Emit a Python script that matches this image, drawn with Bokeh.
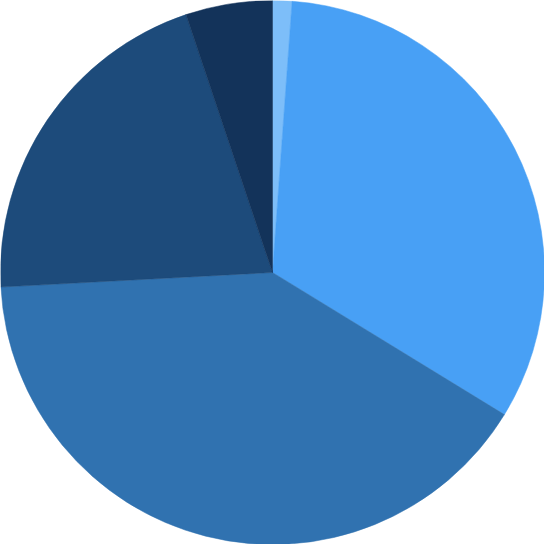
import math
from bokeh.plotting import figure
from bokeh.models import ColumnDataSource, Range1d
from bokeh.embed import file_html
from bokeh.resources import INLINE

# data
categories = ["A", "B", "C", "D", "E"]
values = [1.15, 32.6, 40.4, 20.7, 5.15]
colors = ["#7dbef9", "#48a0f5", "#3072b0", "#1d4b7b", "#13335a"]

total = sum(values)
starts, ends = [], []
cum = 0.0
for v in values:
    starts.append(math.pi / 2 - cum / total * 2 * math.pi)
    cum += v
    ends.append(math.pi / 2 - cum / total * 2 * math.pi)

src = ColumnDataSource(dict(cat=categories, val=values, start=starts, end=ends, color=colors))

p = figure(width=544, height=544, output_backend="svg", toolbar_location=None,
           x_range=Range1d(-1, 1), y_range=Range1d(-1, 1), min_border=0)
p.wedge(x=0, y=0, radius=1, start_angle="start", end_angle="end", direction="clock",
        fill_color="color", line_color="color", line_width=0.5, source=src)
p.axis.visible = False
p.grid.visible = False
p.outline_line_color = None
p.background_fill_color = "white"
p.border_fill_color = "white"

open("out.html", "w").write(file_html(p, INLINE))
